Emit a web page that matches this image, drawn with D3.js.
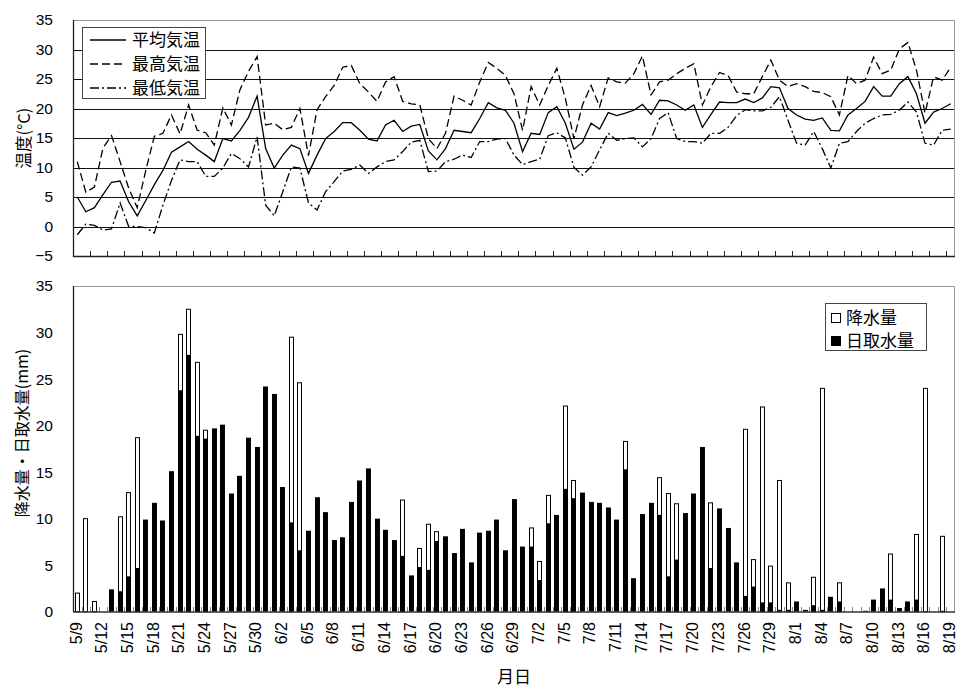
<!DOCTYPE html>
<html>
<head>
<meta charset="utf-8">
<script src="https://cdn.jsdelivr.net/npm/d3@7"></script>
<style>
  body { margin: 0; background: #fff; }
  text { fill: #000; }
  .num { font-family: "Liberation Sans", Arial, sans-serif; }
  .jp { font-family: "Noto Sans CJK JP", "Noto Sans", sans-serif; }
</style>
</head>
<body>
<div id="svgchart"></div>
<script>
// daily values from 5/9 to 8/19
var tempMean = [5.0, 2.5, 3.2, 5.4, 7.5, 7.7, 4.2, 1.8, 4.4, 7.1, 9.5, 12.6, 13.5, 14.4, 13.1, 12.1, 11.0, 14.9, 14.5, 16.3,
  18.5, 22.1, 13.2, 9.9, 12.1, 13.8, 13.2, 9.0, 12.1, 14.9, 16.1, 17.6, 17.6, 16.3, 14.8, 14.5, 17.2, 18.0, 16.1, 17.0,
  17.3, 12.8, 11.3, 13.2, 16.3, 16.1, 15.9, 18.3, 21.0, 20.1, 19.7, 17.5, 12.7, 15.8, 15.6, 19.3, 20.3, 17.5, 13.1, 14.3,
  17.5, 16.5, 19.3, 18.8, 19.2, 19.7, 20.7, 19.0, 21.4, 21.3, 20.6, 19.7, 20.6, 16.8, 19.0, 21.1, 21.0, 21.0, 21.6, 21.0,
  21.8, 23.7, 23.5, 20.0, 18.9, 18.2, 18.0, 18.4, 16.3, 16.2, 18.9, 20.0, 21.2, 23.7, 22.1, 22.1, 24.2, 25.4, 22.5, 17.5,
  19.4, 20.0, 20.8];
var tempMax = [11.0, 5.8, 6.7, 13.3, 15.4, 11.0, 6.5, 3.2, 9.5, 15.3, 15.8, 18.9, 15.7, 20.6, 16.3, 15.9, 13.8, 20.1, 17.2, 23.2,
  26.3, 28.8, 17.2, 17.5, 16.4, 16.8, 20.0, 12.0, 19.8, 22.0, 23.9, 27.0, 27.3, 24.2, 22.8, 21.2, 24.5, 25.4, 21.2, 20.8,
  20.6, 14.9, 13.2, 15.8, 22.1, 21.4, 20.6, 24.5, 27.8, 26.8, 25.6, 22.5, 16.3, 23.7, 20.6, 23.9, 26.8, 21.7, 14.9, 20.6,
  23.9, 20.3, 25.2, 24.5, 24.3, 25.9, 28.9, 22.3, 24.5, 24.8, 25.9, 26.8, 27.6, 20.6, 23.7, 26.1, 25.6, 22.8, 22.5, 22.5,
  25.4, 28.2, 24.8, 23.7, 24.2, 23.7, 22.9, 22.7, 22.0, 18.9, 25.6, 24.2, 24.8, 28.7, 25.9, 26.5, 30.1, 31.2, 26.5, 19.2,
  25.4, 24.8, 27.0];
var tempMin = [-1.4, 0.4, 0.2, -0.6, -0.4, 4.0, 0.0, 0.0, -0.2, -1.1, 3.6, 7.8, 11.3, 11.0, 11.0, 8.5, 8.5, 9.9, 12.4, 11.5,
  10.1, 15.2, 3.6, 1.8, 5.9, 10.1, 9.9, 4.0, 2.8, 5.9, 7.6, 9.4, 9.7, 10.4, 9.0, 10.1, 11.0, 11.3, 12.7, 14.3,
  14.6, 9.3, 9.4, 11.0, 11.4, 12.1, 11.7, 14.4, 14.4, 14.8, 14.9, 12.1, 10.5, 11.0, 11.4, 15.4, 15.9, 15.0, 10.0, 8.7,
  10.1, 13.0, 15.8, 14.6, 14.9, 15.0, 13.5, 14.9, 18.3, 19.3, 14.9, 14.4, 14.4, 14.1, 15.8, 15.8, 16.8, 18.8, 19.8, 19.6,
  19.6, 20.2, 22.0, 18.0, 14.1, 13.8, 16.1, 13.2, 9.9, 14.1, 14.4, 16.1, 17.5, 18.3, 18.9, 19.0, 19.7, 21.1, 19.4, 14.1,
  13.8, 16.3, 16.5];
var rain = [2.0, 10.0, 1.1, 0, 0, 10.2, 12.8, 18.7, 0, 0, 0, 0, 29.8, 32.5, 26.8, 19.5, 0, 0, 0, 0,
  0, 0, 0, 0, 0, 29.5, 24.6, 0, 0, 0, 0, 0, 0, 0, 0, 0, 0, 0, 12.0, 0,
  6.8, 9.4, 8.6, 0, 0, 0, 0, 0, 0, 0, 0, 0, 0, 9.0, 5.4, 12.5, 0, 22.1, 14.1, 0,
  0, 0, 0, 0, 18.3, 0, 0, 0, 14.4, 12.7, 11.6, 0, 0, 0, 11.7, 0, 0, 0, 19.6, 5.6,
  22.0, 4.9, 14.1, 3.1, 0, 0, 3.7, 24.0, 0, 3.1, 0, 0, 0, 0, 0, 6.2, 0, 0, 8.3, 24.0,
  0, 8.1, 0];
var intake = [0, 0, 0, 0, 2.4, 2.2, 3.8, 4.7, 9.9, 11.7, 9.8, 15.1, 23.8, 27.6, 18.9, 18.6, 19.7, 20.1, 12.7, 14.6,
  18.7, 17.7, 24.2, 23.4, 13.4, 9.6, 6.6, 8.7, 12.3, 10.7, 7.7, 8.0, 11.8, 14.1, 15.4, 10.0, 8.8, 7.7, 6.0, 3.9,
  4.8, 4.5, 7.6, 8.1, 6.3, 8.9, 5.3, 8.5, 8.7, 9.9, 6.6, 12.1, 7.0, 7.0, 3.4, 9.5, 10.4, 13.2, 12.2, 12.8,
  11.8, 11.7, 11.2, 9.9, 15.3, 3.6, 10.5, 11.7, 10.4, 3.8, 5.6, 10.6, 12.7, 17.7, 4.7, 11.1, 9.0, 5.3, 1.7, 2.7,
  1.0, 1.0, 0.2, 0.2, 1.1, 0.2, 0.7, 0.2, 1.6, 1.1, 0, 0, 0.1, 1.3, 2.5, 1.3, 0.4, 1.1, 1.3, 0,
  0, 0.1, 0];
var tempTicks = [-5, 0, 5, 10, 15, 20, 25, 30, 35];
var waterTicks = [0, 5, 10, 15, 20, 25, 30, 35];

var days = d3.timeDay.range(new Date(2000, 4, 9), new Date(2000, 7, 20));
var fmt = d3.timeFormat('%-m/%-d');
var labels = days.map(fmt);

var width = 957, height = 687;
var left = 73, right = 955;
var svg = d3.select('#svgchart').append('svg')
  .attr('width', width).attr('height', height);

var x = d3.scaleBand().domain(labels).range([left, right])
  .paddingInner(0.42).paddingOuter(0.21);
var step = x.step();
var cx = function (i) { return x(labels[i]) + x.bandwidth() / 2; };
var edge = function (k) { return left + step * k; };

// ---------- temperature ----------
var yT = d3.scaleLinear().domain([-5, 35]).range([256, 20]);
var gTemp = svg.append('g');

gTemp.selectAll('.grid').data(tempTicks.filter(function (d) { return d > -5 && d < 35; }))
  .enter().append('line')
  .attr('x1', left).attr('x2', right)
  .attr('y1', function (d) { return Math.round(yT(d)) + 0.5; })
  .attr('y2', function (d) { return Math.round(yT(d)) + 0.5; })
  .attr('stroke', '#111').attr('stroke-width', 1);

gTemp.append('line').attr('x1', left).attr('x2', right).attr('y1', 20.5).attr('y2', 20.5).attr('stroke', '#999');
gTemp.append('line').attr('x1', right - 0.5).attr('x2', right - 0.5).attr('y1', 20).attr('y2', 256).attr('stroke', '#999');

// tick marks every two days, pointing up
gTemp.selectAll('.tk').data(d3.range(2, labels.length, 2)).enter().append('line')
  .attr('x1', function (k) { return Math.round(edge(k)) + 0.5; })
  .attr('x2', function (k) { return Math.round(edge(k)) + 0.5; })
  .attr('y1', 256).attr('y2', 251)
  .attr('stroke', '#222');

gTemp.append('line').attr('x1', left).attr('x2', right).attr('y1', 256.5).attr('y2', 256.5).attr('stroke', '#222').attr('stroke-width', 1.3);
gTemp.append('line').attr('x1', left + 0.5).attr('x2', left + 0.5).attr('y1', 20).attr('y2', 257).attr('stroke', '#222').attr('stroke-width', 1.3);

var yAxisT = gTemp.append('g').attr('class', 'num')
  .attr('transform', 'translate(' + left + ',0)')
  .call(d3.axisLeft(yT).tickValues(tempTicks).tickSize(0).tickPadding(20));
yAxisT.select('.domain').remove();
yAxisT.selectAll('text').attr('font-size', 15.5).attr('fill', '#000');

var series = [
  { name: '平均気温', values: tempMean, dash: null },
  { name: '最高気温', values: tempMax, dash: '8,4' },
  { name: '最低気温', values: tempMin, dash: '9,3,2,3' }
];
var line = d3.line().x(function (d, i) { return cx(i); }).y(function (d) { return yT(d); });
gTemp.selectAll('.series').data(series).enter().append('path')
  .attr('d', function (s) { return line(s.values); })
  .attr('fill', 'none').attr('stroke', '#000').attr('stroke-width', 1.3)
  .attr('stroke-dasharray', function (s) { return s.dash; });

// legend
var lg = gTemp.append('g');
lg.append('rect').attr('x', 82.5).attr('y', 27.5).attr('width', 123).attr('height', 71)
  .attr('fill', '#fff').attr('stroke', '#444');
series.forEach(function (s, i) {
  var ly = 40 + i * 24;
  lg.append('line').attr('x1', 90).attr('x2', 126).attr('y1', ly).attr('y2', ly)
    .attr('stroke', '#000').attr('stroke-width', 1.3).attr('stroke-dasharray', s.dash);
  lg.append('text').attr('class', 'jp').attr('x', 132).attr('y', ly).attr('dy', '0.36em')
    .attr('font-size', 17).text(s.name);
});

svg.append('text').attr('class', 'jp').attr('font-size', 16.5)
  .attr('text-anchor', 'middle')
  .attr('transform', 'translate(24,138) rotate(-90)')
  .attr('dy', '0.36em')
  .text('温度(°C)');

// ---------- water ----------
var yW = d3.scaleLinear().domain([0, 35]).range([611.7, 286]);
var gWater = svg.append('g');

gWater.append('line').attr('x1', left).attr('x2', right).attr('y1', 286.5).attr('y2', 286.5).attr('stroke', '#999');
gWater.append('line').attr('x1', right - 0.5).attr('x2', right - 0.5).attr('y1', 286).attr('y2', 612).attr('stroke', '#999');

var rainDays = rain.map(function (v, i) { return { i: i, v: v }; }).filter(function (d) { return d.v > 0; });
gWater.selectAll('.rain').data(rainDays).enter().append('rect')
  .attr('x', function (d) { return Math.round(x(labels[d.i])) + 0.5; })
  .attr('y', function (d) { return yW(d.v); })
  .attr('width', x.bandwidth() - 1)
  .attr('height', function (d) { return yW(0) - yW(d.v); })
  .attr('fill', '#fff').attr('stroke', '#000').attr('stroke-width', 1);

gWater.selectAll('.intake').data(intake).enter().append('rect')
  .attr('x', function (d, i) { return Math.round(x(labels[i])); })
  .attr('y', function (d) { return yW(d); })
  .attr('width', x.bandwidth())
  .attr('height', function (d) { return yW(0) - yW(d); })
  .attr('fill', '#000');

gWater.selectAll('.tk').data(d3.range(1, labels.length)).enter().append('line')
  .attr('x1', function (k) { return Math.round(edge(k)) + 0.5; })
  .attr('x2', function (k) { return Math.round(edge(k)) + 0.5; })
  .attr('y1', 612).attr('y2', 607)
  .attr('stroke', '#888');

gWater.append('line').attr('x1', left).attr('x2', right).attr('y1', 612).attr('y2', 612).attr('stroke', '#333').attr('stroke-width', 1.3);
gWater.append('line').attr('x1', left + 0.5).attr('x2', left + 0.5).attr('y1', 286).attr('y2', 612).attr('stroke', '#222').attr('stroke-width', 1.3);

var yAxisW = gWater.append('g').attr('class', 'num')
  .attr('transform', 'translate(' + left + ',0)')
  .call(d3.axisLeft(yW).tickValues(waterTicks).tickSize(0).tickPadding(20));
yAxisW.select('.domain').remove();
yAxisW.selectAll('text').attr('font-size', 15.5).attr('fill', '#000');

// date labels every three days
gWater.selectAll('.xl').data(labels.filter(function (d, i) { return i % 3 === 0; }))
  .enter().append('text').attr('class', 'num')
  .attr('font-size', 16)
  .attr('text-anchor', 'end')
  .attr('transform', function (d) { return 'translate(' + (x(d) + x.bandwidth() / 2 - 0.5) + ',622) rotate(-90)'; })
  .attr('dy', '0.3em')
  .text(function (d) { return d; });

svg.append('text').attr('class', 'jp').attr('font-size', 16)
  .attr('text-anchor', 'middle')
  .attr('transform', 'translate(22,433) rotate(-90)')
  .attr('dy', '0.36em')
  .text('降水量・日取水量(mm)');

svg.append('text').attr('class', 'jp').attr('font-size', 17)
  .attr('text-anchor', 'middle').attr('x', 514).attr('y', 677).attr('dy', '0.36em')
  .text('月日');

// legend
var lw = gWater.append('g');
lw.append('rect').attr('x', 825.5).attr('y', 303.5).attr('width', 101).attr('height', 47)
  .attr('fill', '#fff').attr('stroke', '#444');
[{ name: '降水量', fill: '#fff' }, { name: '日取水量', fill: '#000' }].forEach(function (s, i) {
  var ly = 318 + i * 23;
  lw.append('rect').attr('x', 831.5).attr('y', ly - 4.5).attr('width', 9).attr('height', 9)
    .attr('fill', s.fill).attr('stroke', '#000');
  lw.append('text').attr('class', 'jp').attr('x', 846).attr('y', ly).attr('dy', '0.36em')
    .attr('font-size', 17).text(s.name);
});
</script>
</body>
</html>
